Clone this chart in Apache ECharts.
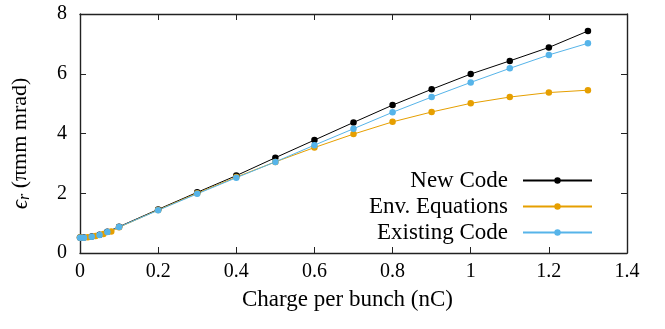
<!DOCTYPE html>
<html>
<head>
<meta charset="utf-8">
<script src="https://cdn.jsdelivr.net/npm/echarts@6/dist/echarts.min.js"></script>
<style>
  html, body { margin: 0; padding: 0; background: #fff; }
  #chart { width: 665px; height: 329px; }
</style>
</head>
<body>
<div id="chart"></div>
<script>
// Emittance vs. bunch charge for the three calculation methods
const seriesNames = ['New Code', 'Env. Equations', 'Existing Code'];

const newCodeX = [0, 0.01, 0.03, 0.05, 0.07, 0.1, 0.2, 0.3, 0.4, 0.5, 0.6, 0.7, 0.8, 0.9, 1.0, 1.1, 1.2, 1.3];
const newCodeY = [0.52, 0.52, 0.55, 0.61, 0.71, 0.88, 1.46, 2.03, 2.59, 3.19, 3.78, 4.37, 4.95, 5.48, 5.99, 6.43, 6.88, 7.43];

const envX = [0, 0.02, 0.04, 0.06, 0.08, 0.1, 0.2, 0.3, 0.4, 0.5, 0.6, 0.7, 0.8, 0.9, 1.0, 1.1, 1.2, 1.3];
const envY = [0.52, 0.53, 0.57, 0.64, 0.72, 0.86, 1.44, 2.00, 2.54, 3.05, 3.53, 3.98, 4.39, 4.72, 5.01, 5.22, 5.37, 5.45];

const existingX = [0, 0.01, 0.03, 0.05, 0.07, 0.1, 0.2, 0.3, 0.4, 0.5, 0.6, 0.7, 0.8, 0.9, 1.0, 1.1, 1.2, 1.3];
const existingY = [0.51, 0.51, 0.54, 0.60, 0.70, 0.87, 1.43, 1.98, 2.52, 3.05, 3.61, 4.16, 4.71, 5.22, 5.71, 6.18, 6.63, 7.02];

const xTicks = { min: 0, max: 1.4, interval: 0.2 };
const yTicks = { min: 0, max: 8, interval: 2 };

const colors = ['#000000', '#e69f00', '#56b4e9'];
const FONT = '"Liberation Serif", "DejaVu Serif", serif';

function pairs(xs, ys) { return xs.map((x, i) => [x, ys[i]]); }

const chart = echarts.init(document.getElementById('chart'), null, { renderer: 'canvas' });

// shared look for the four sides of the plot frame (inward ticks on every side)
function frameAxis() {
  return {
    axisLine: { show: true, onZero: false, lineStyle: { color: '#222', width: 1.4 } },
    axisTick: { show: true, inside: true, length: 6, lineStyle: { color: '#222', width: 1 } },
    splitLine: { show: false }
  };
}

function makeSeries(name, data, color) {
  return {
    name: name,
    type: 'line',
    data: data,
    xAxisIndex: 0,
    yAxisIndex: 0,
    symbol: 'circle',
    symbolSize: 6.5,
    showAllSymbol: true,
    lineStyle: { color: color, width: 1 },
    itemStyle: { color: color },
    animation: false
  };
}

chart.setOption({
  animation: false,
  backgroundColor: '#fff',
  grid: { left: 80, right: 38, top: 14, bottom: 76, containLabel: false },
  xAxis: [
    Object.assign({
      type: 'value', position: 'bottom',
      min: xTicks.min, max: xTicks.max, interval: xTicks.interval,
      name: 'Charge per bunch (nC)', nameLocation: 'middle', nameGap: 35,
      nameTextStyle: { fontFamily: FONT, fontSize: 23, color: '#000', padding: [0, 12, 0, 0] },
      axisLabel: {
        margin: 9, fontFamily: FONT, fontSize: 20, color: '#000',
        formatter: v => String(+v.toFixed(1))
      }
    }, frameAxis()),
    Object.assign({
      type: 'value', position: 'top',
      min: xTicks.min, max: xTicks.max, interval: xTicks.interval,
      axisLabel: { show: false }
    }, frameAxis())
  ],
  yAxis: [
    Object.assign({
      type: 'value', position: 'left',
      min: yTicks.min, max: yTicks.max, interval: yTicks.interval,
      name: '{eps|ϵ}{sub|r}{t| (πmm mrad)}', nameLocation: 'middle', nameGap: 47, nameRotate: 90,
      nameTextStyle: {
        fontFamily: FONT, fontSize: 22, color: '#000', padding: [0, 20, 0, 0],
        rich: {
          eps: { fontFamily: FONT, fontSize: 23, fontStyle: 'italic', color: '#000' },
          sub: { fontFamily: FONT, fontSize: 16, fontStyle: 'italic', color: '#000', verticalAlign: 'bottom', padding: [9, 0, 0, 0] },
          t: { fontFamily: FONT, fontSize: 22, color: '#000' }
        }
      },
      axisLabel: { margin: 13, fontFamily: FONT, fontSize: 20, color: '#000' }
    }, frameAxis()),
    Object.assign({
      type: 'value', position: 'right',
      min: yTicks.min, max: yTicks.max, interval: yTicks.interval,
      axisLabel: { show: false }
    }, frameAxis())
  ],
  legend: {
    orient: 'vertical',
    right: 67,
    top: 164,
    align: 'right',
    itemWidth: 69,
    itemHeight: 8,
    itemGap: 3,
    data: seriesNames,
    textStyle: { fontFamily: FONT, fontSize: 23, color: '#000', padding: [0, 10, 0, 0] }
  },
  series: [
    makeSeries(seriesNames[0], pairs(newCodeX, newCodeY), colors[0]),
    makeSeries(seriesNames[1], pairs(envX, envY), colors[1]),
    makeSeries(seriesNames[2], pairs(existingX, existingY), colors[2])
  ]
});
</script>
</body>
</html>
